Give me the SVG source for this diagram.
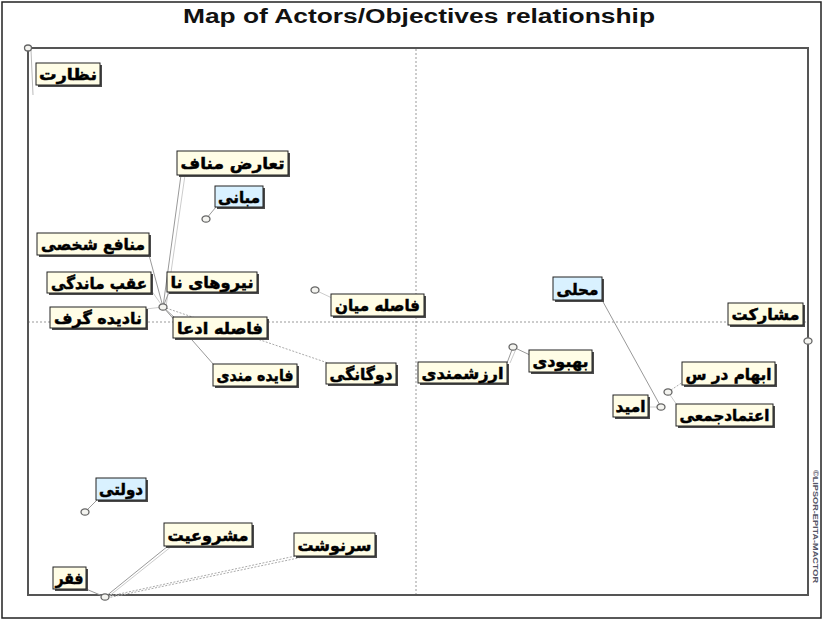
<svg xmlns="http://www.w3.org/2000/svg" width="824" height="621" viewBox="0 0 824 621">
<defs>
<style>
.bg{fill:#fff}
.frame{fill:none;stroke:#222;stroke-width:1.5}
.axis{fill:none;stroke:#555;stroke-width:2}
.mid{stroke:#999;stroke-width:1;stroke-dasharray:2,2}
.ln{stroke:#999;stroke-width:1;fill:none}
.ln2{stroke:#ccc;stroke-width:1;fill:none}
.dl{stroke:#aaa;stroke-width:1;stroke-dasharray:2,1.5;fill:none}
.sh{fill:#4a4a4a}
.bx{fill:#fffde6;stroke:#222;stroke-width:1}
.bb{fill:#d9f1ff;stroke:#222;stroke-width:1}
.t{font-family:"DejaVu Sans",sans-serif;font-weight:bold;font-size:16px;fill:#000;stroke:#000;stroke-width:0.5;text-anchor:middle;direction:rtl}
.pt{fill:#f4f4f0;stroke:#666;stroke-width:1.3}
.title{font-family:"Liberation Sans",Arial,sans-serif;font-weight:bold;font-size:20px;fill:#111;text-anchor:middle}
.cr{font-family:"Liberation Sans",Arial,sans-serif;font-weight:bold;font-size:8px;fill:#556}
</style>
</defs>
<rect class="bg" x="0" y="0" width="824" height="621"/>
<rect class="frame" x="2" y="2" width="819" height="616"/>
<text class="title" x="419" y="23" textLength="472" lengthAdjust="spacingAndGlyphs">Map of Actors/Objectives relationship</text>

<g id="axes">
<line class="mid" x1="416" y1="49" x2="416" y2="595"/>
<line class="mid" x1="28" y1="322" x2="808" y2="322"/>
<path class="axis" d="M28,48 H808 V595 H28 Z"/>
<line stroke="#bbb" stroke-width="1" x1="31" y1="50" x2="33" y2="95"/>
<text class="cr" transform="translate(813,470) rotate(90)" textLength="113" lengthAdjust="spacingAndGlyphs">©LIPSOR-EPITA-MACTOR</text>
</g>

<g id="connectors">
<line class="ln" x1="163" y1="307" x2="181" y2="175"/>
<line class="ln2" x1="166" y1="307" x2="185" y2="175"/>
<line class="ln" x1="163" y1="307" x2="149" y2="255"/>
<line class="ln2" x1="163" y1="307" x2="151" y2="290"/>
<line class="ln" x1="163" y1="307" x2="169" y2="292"/>
<line class="ln2" x1="163" y1="307" x2="146" y2="309"/>
<line class="ln" x1="163" y1="307" x2="175" y2="318"/>
<line class="ln" x1="163" y1="307" x2="214" y2="365"/>
<line class="dl" x1="163" y1="307" x2="328" y2="363"/>
<line class="ln" x1="206" y1="219" x2="216" y2="207"/>
<line class="ln2" x1="315" y1="290" x2="332" y2="298"/>
<line class="ln" x1="513" y1="347" x2="530" y2="355"/>
<line class="ln" x1="513" y1="347" x2="507" y2="363"/>
<line class="ln2" x1="516" y1="349" x2="510" y2="363"/>
<line class="dl" x1="668" y1="392" x2="683" y2="382"/>
<line class="ln" x1="661" y1="407" x2="602" y2="300"/>
<line class="ln2" x1="661" y1="407" x2="648" y2="407"/>
<line class="ln2" x1="668" y1="392" x2="677" y2="405"/>
<line class="ln" x1="85" y1="512" x2="97" y2="500"/>
<line class="ln" x1="105" y1="597" x2="168" y2="546"/>
<line class="ln2" x1="108" y1="597" x2="172" y2="546"/>
<line class="dl" x1="105" y1="597" x2="300" y2="555"/>
<line class="dl" x1="107" y1="598" x2="303" y2="557"/>
<line class="ln" x1="105" y1="597" x2="86" y2="589"/>
</g>

<g id="points">
<ellipse class="pt" cx="28" cy="48" rx="3.5" ry="3"/>
<ellipse class="pt" cx="163" cy="307" rx="4" ry="3.2"/>
<ellipse class="pt" cx="206" cy="219" rx="4" ry="3.2"/>
<ellipse class="pt" cx="315" cy="290" rx="4" ry="3.2"/>
<ellipse class="pt" cx="513" cy="347" rx="4" ry="3.2"/>
<ellipse class="pt" cx="668" cy="392" rx="4" ry="3.2"/>
<ellipse class="pt" cx="661" cy="407" rx="4" ry="3.2"/>
<ellipse class="pt" cx="808" cy="341" rx="4" ry="3.2"/>
<ellipse class="pt" cx="85" cy="512" rx="4" ry="3.2"/>
<ellipse class="pt" cx="105" cy="597" rx="4" ry="3.2"/>
</g>

<g id="n-nezarat"><rect class="sh" x="38" y="65" width="64" height="22"/><rect class="bx" x="36" y="63" width="64" height="22"/><text class="t" x="68" y="80" textLength="58" lengthAdjust="spacingAndGlyphs">نظارت</text></g>
<g id="n-taaroz"><rect class="sh" x="179" y="153" width="111" height="24"/><rect class="bx" x="177" y="151" width="111" height="24"/><text class="t" x="232.5" y="169" textLength="104" lengthAdjust="spacingAndGlyphs">تعارض مناف</text></g>
<g id="n-mabani"><rect class="sh" x="217" y="188" width="48" height="21"/><rect class="bb" x="215" y="186" width="48" height="21"/><text class="t" x="239" y="203" textLength="42" lengthAdjust="spacingAndGlyphs">مبانی</text></g>
<g id="n-manafe"><rect class="sh" x="39" y="235" width="112" height="22"/><rect class="bx" x="37" y="233" width="112" height="22"/><text class="t" x="93" y="250" textLength="104" lengthAdjust="spacingAndGlyphs">منافع شخصی</text></g>
<g id="n-aghab"><rect class="sh" x="49" y="274" width="104" height="21"/><rect class="bx" x="47" y="272" width="104" height="21"/><text class="t" x="99" y="289" textLength="96" lengthAdjust="spacingAndGlyphs">عقب ماندگی</text></g>
<g id="n-niroo"><rect class="sh" x="169" y="274" width="90" height="20"/><rect class="bx" x="167" y="272" width="90" height="20"/><text class="t" x="212" y="288" textLength="83" lengthAdjust="spacingAndGlyphs">نیروهای نا</text></g>
<g id="n-nadideh"><rect class="sh" x="52" y="309" width="96" height="21"/><rect class="bx" x="50" y="307" width="96" height="21"/><text class="t" x="98" y="324" textLength="88" lengthAdjust="spacingAndGlyphs">نادیده گرف</text></g>
<g id="n-faseleh-edea"><rect class="sh" x="175" y="319" width="94" height="21"/><rect class="bx" x="173" y="317" width="94" height="21"/><text class="t" x="220" y="334" textLength="86" lengthAdjust="spacingAndGlyphs">فاصله ادعا</text></g>
<g id="n-faseleh-mian"><rect class="sh" x="333" y="296" width="93" height="22"/><rect class="bx" x="331" y="294" width="93" height="22"/><text class="t" x="377.5" y="311" textLength="85" lengthAdjust="spacingAndGlyphs">فاصله میان</text></g>
<g id="n-fayedeh"><rect class="sh" x="215" y="366" width="84" height="22"/><rect class="bx" x="213" y="364" width="84" height="22"/><text class="t" x="255" y="381" textLength="77" lengthAdjust="spacingAndGlyphs">فایده مندی</text></g>
<g id="n-dogangi"><rect class="sh" x="328" y="365" width="70" height="21"/><rect class="bx" x="326" y="363" width="70" height="21"/><text class="t" x="361" y="380" textLength="63" lengthAdjust="spacingAndGlyphs">دوگانگی</text></g>
<g id="n-mahali"><rect class="sh" x="555" y="279" width="49" height="23"/><rect class="bb" x="553" y="277" width="49" height="23"/><text class="t" x="577.5" y="295" textLength="42" lengthAdjust="spacingAndGlyphs">محلی</text></g>
<g id="n-mosharekat"><rect class="sh" x="730" y="305" width="75" height="22"/><rect class="bx" x="728" y="303" width="75" height="22"/><text class="t" x="765.5" y="320" textLength="68" lengthAdjust="spacingAndGlyphs">مشارکت</text></g>
<g id="n-behbood"><rect class="sh" x="531" y="352" width="63" height="22"/><rect class="bx" x="529" y="350" width="63" height="22"/><text class="t" x="560.5" y="367" textLength="56" lengthAdjust="spacingAndGlyphs">بهبودی</text></g>
<g id="n-arzesh"><rect class="sh" x="420" y="364" width="89" height="21"/><rect class="bx" x="418" y="362" width="89" height="21"/><text class="t" x="462.5" y="379" textLength="82" lengthAdjust="spacingAndGlyphs">ارزشمندی</text></g>
<g id="n-ebham"><rect class="sh" x="684" y="364" width="93" height="23"/><rect class="bx" x="682" y="362" width="93" height="23"/><text class="t" x="728.5" y="380" textLength="86" lengthAdjust="spacingAndGlyphs">ابهام در س</text></g>
<g id="n-omid"><rect class="sh" x="615" y="397" width="35" height="22"/><rect class="bx" x="613" y="395" width="35" height="22"/><text class="t" x="630.5" y="412" textLength="30" lengthAdjust="spacingAndGlyphs">امید</text></g>
<g id="n-etemad"><rect class="sh" x="678" y="406" width="97" height="22"/><rect class="bx" x="676" y="404" width="97" height="22"/><text class="t" x="724.5" y="421" textLength="90" lengthAdjust="spacingAndGlyphs">اعتمادجمعی</text></g>
<g id="n-dolati"><rect class="sh" x="98" y="480" width="50" height="22"/><rect class="bb" x="96" y="478" width="50" height="22"/><text class="t" x="121" y="495" textLength="44" lengthAdjust="spacingAndGlyphs">دولتی</text></g>
<g id="n-mashrooiat"><rect class="sh" x="166" y="525" width="88" height="23"/><rect class="bx" x="164" y="523" width="88" height="23"/><text class="t" x="208" y="541" textLength="81" lengthAdjust="spacingAndGlyphs">مشروعیت</text></g>
<g id="n-sarnevesht"><rect class="sh" x="296" y="535" width="81" height="23"/><rect class="bx" x="294" y="533" width="81" height="23"/><text class="t" x="334.5" y="551" textLength="74" lengthAdjust="spacingAndGlyphs">سرنوشت</text></g>
<g id="n-faghr"><rect class="sh" x="55" y="569" width="33" height="22"/><rect class="bx" x="53" y="567" width="33" height="22"/><text class="t" x="69.5" y="584" textLength="28" lengthAdjust="spacingAndGlyphs">فقر</text></g>
</svg>
